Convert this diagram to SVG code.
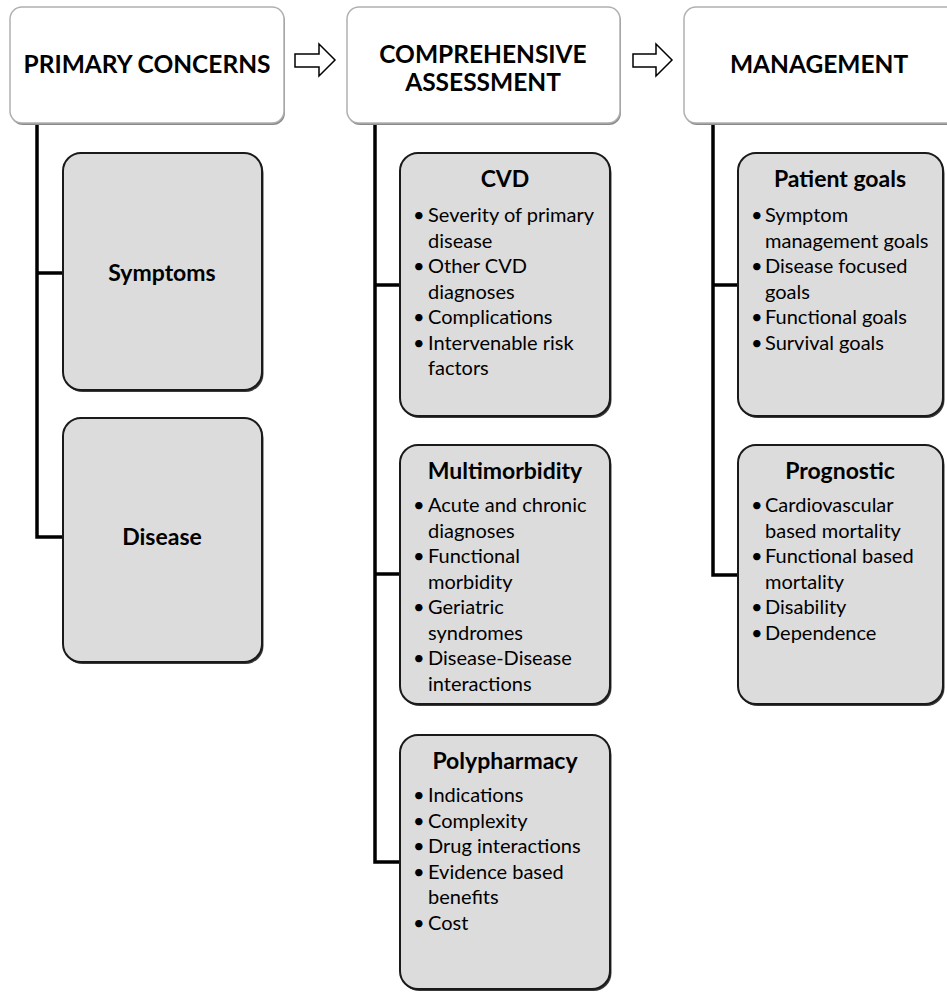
<svg xmlns="http://www.w3.org/2000/svg" width="947" height="994" viewBox="0 0 947 994">
<style>
.hdr{fill:#fff;stroke:#b0b0b0;stroke-width:1.5}
.hsh{fill:#8a8a8a;stroke:none}
.box{fill:#dcdcdc;stroke:#1a1a1a;stroke-width:2}
.bsh{fill:#3a3a3a;stroke:none}
.conn{fill:none;stroke:#000;stroke-width:3.5}
.arr{fill:#fff;stroke:#000;stroke-width:1.5;stroke-linejoin:miter}
text{font-family:Lato,"Liberation Sans",sans-serif;fill:#000}
.ht{font-size:24.5px;font-weight:bold;text-anchor:middle}
.tt{font-size:23px;font-weight:bold;text-anchor:middle}
.bt{font-size:20px}
</style>
<rect width="947" height="994" fill="#fff"/>
<g id="connectors">
<polyline class="conn" points="37,123 37,537 63,537"/>
<line class="conn" x1="37" y1="273" x2="63" y2="273"/>
<polyline class="conn" points="375,123 375,862 400,862"/>
<line class="conn" x1="375" y1="285" x2="400" y2="285"/>
<line class="conn" x1="375" y1="574" x2="400" y2="574"/>
<polyline class="conn" points="713,123 713,575 738,575"/>
<line class="conn" x1="713" y1="285" x2="738" y2="285"/>
</g>
<g id="arrow1"><path class="arr" d="M295,54 H319 V44 L335,60 L319,76 V67 H295 Z"/></g>
<g id="arrow2"><path class="arr" d="M633,54 H656 V44 L672,60 L656,76 V67 H633 Z"/></g>
<g id="primary-concerns">
<rect class="hsh" x="11" y="9" width="274" height="116" rx="12"/>
<rect class="hdr" x="10" y="7" width="274" height="116" rx="12"/>
<text class="ht" x="147" y="73">PRIMARY CONCERNS</text>
</g>
<g id="comprehensive-assessment">
<rect class="hsh" x="348" y="9" width="273" height="116" rx="12"/>
<rect class="hdr" x="347" y="7" width="273" height="116" rx="12"/>
<text class="ht" x="483" y="63">COMPREHENSIVE</text>
<text class="ht" x="483" y="91">ASSESSMENT</text>
</g>
<g id="management">
<rect class="hsh" x="685" y="9" width="275" height="116" rx="12"/>
<rect class="hdr" x="684" y="7" width="275" height="116" rx="12"/>
<text class="ht" x="819" y="73">MANAGEMENT</text>
</g>
<g id="symptoms">
<rect class="bsh" x="64.5" y="155" width="199" height="237" rx="18"/>
<rect class="box" x="63" y="153" width="199" height="237" rx="18"/>
<text class="tt" x="162" y="281">Symptoms</text>
</g>
<g id="disease">
<rect class="bsh" x="64.5" y="420" width="199" height="244" rx="18"/>
<rect class="box" x="63" y="418" width="199" height="244" rx="18"/>
<text class="tt" x="162" y="545">Disease</text>
</g>
<g id="cvd">
<rect class="bsh" x="401.5" y="155" width="210" height="263" rx="18"/>
<rect class="box" x="400" y="153" width="210" height="263" rx="18"/>
<text class="tt" x="505" y="187">CVD</text>
<text class="bt"><tspan x="413" y="222">•</tspan><tspan x="428" y="222">Severity of primary</tspan><tspan x="428" y="247.5">disease</tspan><tspan x="413" y="273">•</tspan><tspan x="428" y="273">Other CVD</tspan><tspan x="428" y="298.5">diagnoses</tspan><tspan x="413" y="324">•</tspan><tspan x="428" y="324">Complications</tspan><tspan x="413" y="349.5">•</tspan><tspan x="428" y="349.5">Intervenable risk</tspan><tspan x="428" y="375">factors</tspan></text>
</g>
<g id="multimorbidity">
<rect class="bsh" x="401.5" y="447" width="210" height="259" rx="18"/>
<rect class="box" x="400" y="445" width="210" height="259" rx="18"/>
<text class="tt" x="505" y="479">Multimorbidity</text>
<text class="bt"><tspan x="413" y="512">•</tspan><tspan x="428" y="512">Acute and chronic</tspan><tspan x="428" y="537.5">diagnoses</tspan><tspan x="413" y="563">•</tspan><tspan x="428" y="563">Functional</tspan><tspan x="428" y="588.5">morbidity</tspan><tspan x="413" y="614">•</tspan><tspan x="428" y="614">Geriatric</tspan><tspan x="428" y="639.5">syndromes</tspan><tspan x="413" y="665">•</tspan><tspan x="428" y="665">Disease-Disease</tspan><tspan x="428" y="690.5">interactions</tspan></text>
</g>
<g id="polypharmacy">
<rect class="bsh" x="401.5" y="737" width="210" height="254" rx="18"/>
<rect class="box" x="400" y="735" width="210" height="254" rx="18"/>
<text class="tt" x="505" y="769">Polypharmacy</text>
<text class="bt"><tspan x="413" y="802">•</tspan><tspan x="428" y="802">Indications</tspan><tspan x="413" y="827.5">•</tspan><tspan x="428" y="827.5">Complexity</tspan><tspan x="413" y="853">•</tspan><tspan x="428" y="853">Drug interactions</tspan><tspan x="413" y="878.5">•</tspan><tspan x="428" y="878.5">Evidence based</tspan><tspan x="428" y="904">benefits</tspan><tspan x="413" y="929.5">•</tspan><tspan x="428" y="929.5">Cost</tspan></text>
</g>
<g id="patient-goals">
<rect class="bsh" x="739.5" y="155" width="205" height="263" rx="18"/>
<rect class="box" x="738" y="153" width="205" height="263" rx="18"/>
<text class="tt" x="840" y="187">Patient goals</text>
<text class="bt"><tspan x="751" y="222">•</tspan><tspan x="765" y="222">Symptom</tspan><tspan x="765" y="247.5">management goals</tspan><tspan x="751" y="273">•</tspan><tspan x="765" y="273">Disease focused</tspan><tspan x="765" y="298.5">goals</tspan><tspan x="751" y="324">•</tspan><tspan x="765" y="324">Functional goals</tspan><tspan x="751" y="349.5">•</tspan><tspan x="765" y="349.5">Survival goals</tspan></text>
</g>
<g id="prognostic">
<rect class="bsh" x="739.5" y="447" width="205" height="259" rx="18"/>
<rect class="box" x="738" y="445" width="205" height="259" rx="18"/>
<text class="tt" x="840" y="479">Prognostic</text>
<text class="bt"><tspan x="751" y="512">•</tspan><tspan x="765" y="512">Cardiovascular</tspan><tspan x="765" y="537.5">based mortality</tspan><tspan x="751" y="563">•</tspan><tspan x="765" y="563">Functional based</tspan><tspan x="765" y="588.5">mortality</tspan><tspan x="751" y="614">•</tspan><tspan x="765" y="614">Disability</tspan><tspan x="751" y="639.5">•</tspan><tspan x="765" y="639.5">Dependence</tspan></text>
</g>
</svg>
